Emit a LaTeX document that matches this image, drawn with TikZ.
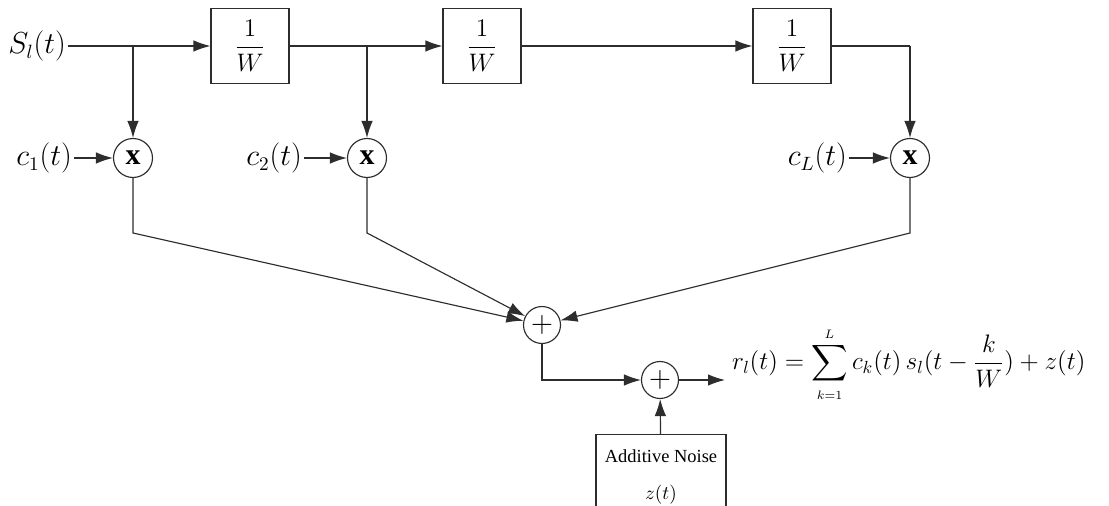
\documentclass[tikz,border=0pt]{standalone}
\usepackage{amsmath}
\usepackage{fontspec}
\setmainfont{Liberation Serif}
\usetikzlibrary{arrows.meta,positioning,calc}
\definecolor{wiregray}{RGB}{45,45,45}

\begin{document}
\begin{tikzpicture}[
  x=0.02cm,y=-0.02cm,>=Latex,
  wire/.style={draw=wiregray,line width=0.65pt},
  sig/.style={wire,-{Latex[length=3.4mm,width=2.3mm]}},
  delay/.style={draw=wiregray,line width=0.65pt,minimum width=1.56cm,minimum height=1.5cm,
                inner sep=0pt,font=\fontsize{15}{17}\selectfont},
  mult/.style={circle,draw=wiregray,line width=0.65pt,minimum size=0.78cm,inner sep=0pt,
               font=\fontsize{17}{17}\selectfont\bfseries},
  adder/.style={circle,draw=wiregray,line width=0.65pt,minimum size=0.74cm,inner sep=0pt,
                font=\fontsize{18}{18}\selectfont},
  lbl/.style={font=\fontsize{16}{18}\selectfont,inner sep=1pt},
  noisebox/.style={draw=wiregray,line width=0.65pt,minimum width=2.6cm,minimum height=1.7cm,
                   align=center,font=\fontsize{10.5}{12}\selectfont,anchor=north}
]
\path[use as bounding box,clip] (0,0) rectangle (1109,506);
% ---------- delay line (top row)
\node[lbl,anchor=east] (sin) at (68,46) {$S_l(t)$};
\node[delay] (d1) at (250,46) {$\dfrac{1}{W}$};
\node[delay] (d2) at (482,46) {$\dfrac{1}{W}$};
\node[delay] (d3) at (792,46) {$\dfrac{1}{W}$};
\coordinate (tap1) at (133,46);
\coordinate (tap2) at (367,46);
\coordinate (tapL) at (910,46);
% ---------- tap weights
\node[mult] (m1) at (133,158) {x};
\node[mult] (m2) at (367,158) {x};
\node[mult] (mL) at (910,158) {x};
\node[lbl,anchor=east] (c1) at (74,158)  {$c_1(t)$};
\node[lbl,anchor=east] (c2) at (304,158) {$c_2(t)$};
\node[lbl,anchor=east] (cL) at (849,158) {$c_L(t)$};
\coordinate (k1) at (133,233);
\coordinate (k2) at (367,233);
\coordinate (kL) at (910,233);
% ---------- summation and noise
\node[adder] (s1) at (542,325) {$+$};
\node[adder] (s2) at (660,380) {$+$};
\coordinate (outp) at (725,380);
\node[lbl,anchor=base west,font=\fontsize{14.5}{17}\selectfont] (rout) at (730,370)
  {$\displaystyle r_l(t)=\sum_{\scriptscriptstyle k=1}^{\scriptscriptstyle L}c_k(t)\,s_l(t-\frac{k}{W})+z(t)$};
\node[noisebox] (noise) at (661,434) {Additive Noise\\[9pt]$z(t)$};
% ---------- arrows
\draw[sig] (sin) -- (d1);
\draw[sig] (d1) -- (d2);
\draw[sig] (d2) -- (d3);
\draw[wire] (d3.east) -- (tapL);
\draw[sig] (tap1) -- (m1);  \draw[sig] (tap2) -- (m2);  \draw[sig] (tapL) -- (mL);
\draw[sig] (c1) -- (m1);  \draw[sig] (c2) -- (m2);  \draw[sig] (cL) -- (mL);
\draw[sig] (m1) -- (k1) -- (s1);
\draw[sig] (m2) -- (k2) -- (s1);
\draw[sig] (mL) -- (kL) -- (s1);
\draw[sig] (s1) |- (s2);
\draw[sig] (s2) -- (outp);
\draw[sig] (noise) -- (s2);
\end{tikzpicture}
\end{document}
